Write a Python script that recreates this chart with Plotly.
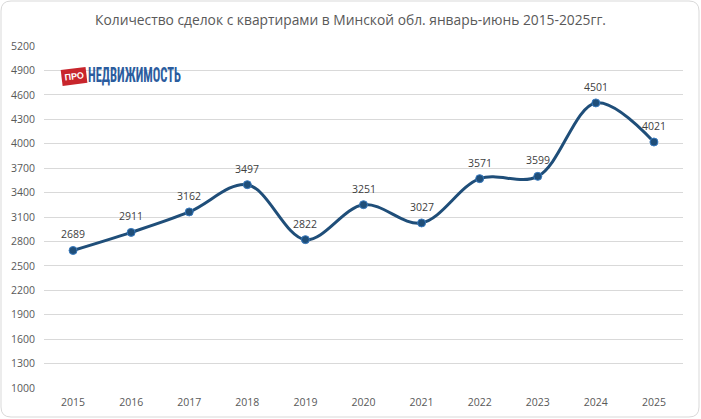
import plotly.graph_objects as go

years = ["2015", "2016", "2017", "2018", "2019", "2020", "2021", "2022", "2023", "2024", "2025"]
deals = [2689, 2911, 3162, 3497, 2822, 3251, 3027, 3571, 3599, 4501, 4021]
y_ticks = list(range(1000, 5201, 300))
title_text = "Количество сделок с квартирами в Минской обл. январь-июнь 2015-2025гг."
logo_tag = "ПРО"
logo_name = "НЕДВИЖИМОСТЬ"

W, H = 701, 419
ml, mr, mt, mb = 44, 18, 46, 31
FONT = "Open Sans, DejaVu Sans, sans-serif"

fig = go.Figure()
fig.add_trace(go.Scatter(
    x=years, y=deals, mode="lines+markers",
    line=dict(color="#1F4E79", width=3, shape="spline", smoothing=1.0),
    marker=dict(size=8, color="#1F4E79", line=dict(color="#3A7BBF", width=1)),
    cliponaxis=False, hoverinfo="x+y",
))

def px2paper_x(px):
    return (px - ml) / (W - ml - mr)

def px2paper_y(py):
    return 1 - (py - mt) / (H - mt - mb)

def rounded_rect_path(x0, y0, x1, y1, r):
    def X(p): return px2paper_x(p)
    def Y(p): return px2paper_y(p)
    return (f"M {X(x0+r)},{Y(y0)} L {X(x1-r)},{Y(y0)} Q {X(x1)},{Y(y0)} {X(x1)},{Y(y0+r)} "
            f"L {X(x1)},{Y(y1-r)} Q {X(x1)},{Y(y1)} {X(x1-r)},{Y(y1)} "
            f"L {X(x0+r)},{Y(y1)} Q {X(x0)},{Y(y1)} {X(x0)},{Y(y1-r)} "
            f"L {X(x0)},{Y(y0+r)} Q {X(x0)},{Y(y0)} {X(x0+r)},{Y(y0)} Z")

shapes = [dict(type="path", xref="paper", yref="paper",
               path=rounded_rect_path(1, 1, 699, 417, 10),
               line=dict(color="#D9D9D9", width=1), layer="below")]

# white backing of the logo (hides the gridline behind it)
shapes.append(dict(type="rect", xref="paper", yref="paper",
                   x0=px2paper_x(61), x1=px2paper_x(181), y0=px2paper_y(65), y1=px2paper_y(86),
                   fillcolor="white", line=dict(width=0), layer="between"))

annotations = [
    dict(text="<b>" + logo_tag + "</b>", x=px2paper_x(73.5), y=px2paper_y(76), xref="paper", yref="paper",
         xanchor="center", yanchor="middle",
         showarrow=False, textangle=-7, bgcolor="#C8252C", borderpad=2.5,
         font=dict(family="Liberation Sans", size=9, color="#FFFFFF")),
    dict(text="<b>" + logo_name + "</b>", x=px2paper_x(85.5), y=px2paper_y(74.5),
         xref="paper", yref="paper", xanchor="left", yanchor="middle", showarrow=False,
         font=dict(family="Liberation Sans Narrow, Roboto Condensed, Arial Narrow, sans-serif",
                   size=12.5, color="#2B5C9E")),
]
for i, v in enumerate(deals):
    annotations.append(dict(x=i, y=v, xref="x", yref="y", text=str(v), showarrow=False,
                            yshift=16, font=dict(family=FONT, size=10.5, color="#404040")))

fig.update_layout(
    width=W, height=H, margin=dict(l=ml, r=mr, t=mt, b=mb, autoexpand=False),
    paper_bgcolor="white", plot_bgcolor="white",
    title=dict(text=title_text, x=0.5, xref="container", xanchor="center",
               y=1 - 20 / H, yref="container", yanchor="middle",
               font=dict(family=FONT, size=13.8, color="#595959")),
    showlegend=False,
    xaxis=dict(type="category", range=[-0.5, 10.5], showgrid=False, showline=False,
               zeroline=False, ticks="", automargin=False, ticklabelstandoff=6,
               tickfont=dict(family=FONT, size=10.5, color="#595959")),
    yaxis=dict(range=[1000, 5200], tickvals=y_ticks, showgrid=True, gridcolor="#D9D9D9",
               gridwidth=1, zeroline=False, showline=False, ticks="", automargin=False,
               ticklabelstandoff=8,
               tickfont=dict(family=FONT, size=10.5, color="#595959")),
    shapes=shapes, annotations=annotations,
)

post = """
document.body.style.margin='0';
document.body.style.overflow='hidden';
document.querySelectorAll('text.annotation-text').forEach(function(t){
  if (t.textContent.indexOf('НЕДВИЖИМОСТЬ') >= 0) {
    var b = t.getBBox();
    var cy = b.y + b.height / 2;
    t.setAttribute('transform', 'translate(0,' + cy + ') scale(1,1.6) translate(0,' + (-cy) + ')');
  }
});
"""
fig.write_html("out.html", post_script=post, config={"displayModeBar": False})
